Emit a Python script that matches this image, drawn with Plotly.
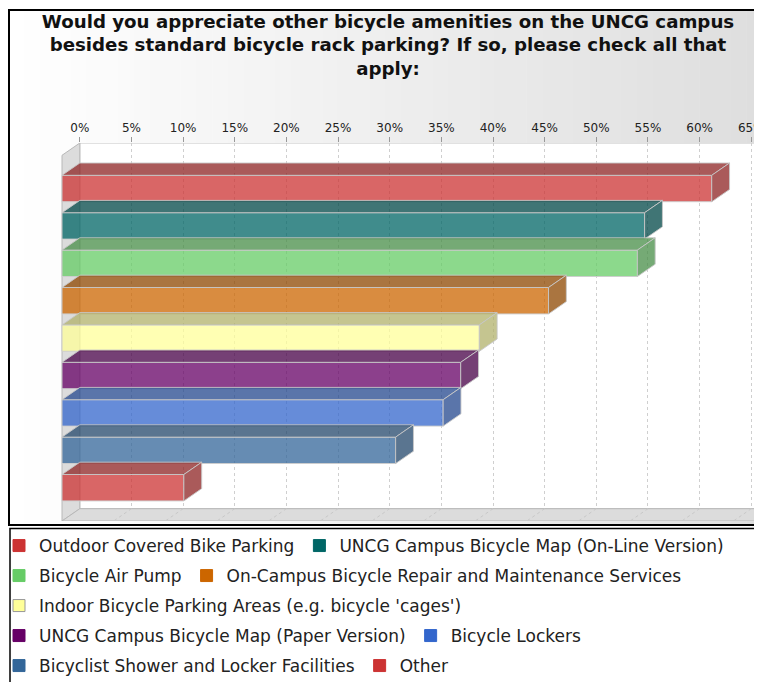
import plotly.graph_objects as go

# ---------------- data ----------------
categories = [
    "Outdoor Covered Bike Parking",
    "UNCG Campus Bicycle Map (On-Line Version)",
    "Bicycle Air Pump",
    "On-Campus Bicycle Repair and Maintenance Services",
    "Indoor Bicycle Parking Areas (e.g. bicycle 'cages')",
    "UNCG Campus Bicycle Map (Paper Version)",
    "Bicycle Lockers",
    "Bicyclist Shower and Locker Facilities",
    "Other",
]
percent = [62.9, 56.4, 55.7, 47.1, 40.4, 38.6, 36.9, 32.3, 11.8]
colors = ["#CC3333", "#006666", "#66CC66", "#CC6600", "#FFFF99",
          "#660066", "#3366CC", "#336699", "#CC3333"]
tick_values = [0, 5, 10, 15, 20, 25, 30, 35, 40, 45, 50, 55, 60, 65]
tick_labels = [f"{t}%" for t in tick_values]
title_lines = [
    "Would you appreciate other bicycle amenities on the UNCG campus",
    "besides standard bicycle rack parking? If so, please check all that",
    "apply:",
]

# ---------------- geometry / style ----------------
OFF = 8                          # page body margin of the html page
W_FIG, H_FIG = 762 - OFF, 682 - OFF
ORIGIN_PX = 62 - OFF             # pixel of 0% on the front plane
L, R, T, B = 0, 762 - OFF, 143 - OFF, 521 - OFF   # plot area (figure px)
PX_PER_PCT = 10.33
PX_PER_CAT = 37.4
X_MIN = -(ORIGIN_PX - L) / PX_PER_PCT
X_MAX = (R - ORIGIN_PX) / PX_PER_PCT
DX = 17.8 / PX_PER_PCT                   # 3D depth (x, data units)
DY = 12.3 / PX_PER_CAT                   # 3D depth (y, data units)
Y_TOP = -(188.5 - OFF - T) / PX_PER_CAT
Y_BOT = Y_TOP + (B - T) / PX_PER_CAT
BAR_W = 26.4 / PX_PER_CAT
FONT = "DejaVu Sans"
legend_rows = [[0, 1], [2, 3], [4], [5, 6], [7, 8]]
legend_row_px = [546, 576, 606, 636, 666]


def rgba(hexc, a, k=1.0):
    h = hexc.lstrip("#")
    r, g, b = (int(h[i:i + 2], 16) for i in (0, 2, 4))
    return f"rgba({int(r * k)},{int(g * k)},{int(b * k)},{a})"


def path(pts):
    return "M " + " L ".join(f"{x:.4f},{y:.4f}" for x, y in pts) + " Z"


def px_x(p):  # page pixel -> paper x
    return (p - OFF - L) / (R - L)


def px_y(p):  # page pixel -> paper y
    return (B - (p - OFF)) / (B - T)


ypos = list(range(len(categories)))
fig = go.Figure()

# top and side faces of the 3D bars (computed from the values)
for i, (v, c) in enumerate(zip(percent, colors)):
    yt = ypos[i] - BAR_W / 2
    yb = ypos[i] + BAR_W / 2
    top = [(0, yt), (v, yt), (v + DX, yt - DY), (DX, yt - DY), (0, yt)]
    side = [(v, yt), (v + DX, yt - DY), (v + DX, yb - DY), (v, yb), (v, yt)]
    for poly in (top, side):
        fig.add_trace(go.Scatter(
            x=[p[0] for p in poly], y=[p[1] for p in poly],
            mode="lines", fill="toself",
            fillcolor=rgba(c, 0.75, 0.7),
            line=dict(color="rgba(200,200,200,0.9)", width=1),
            hoverinfo="skip", showlegend=False))

# front faces
fig.add_trace(go.Bar(
    x=percent, y=ypos, orientation="h", width=BAR_W,
    marker=dict(color=[rgba(c, 0.75) for c in colors],
                line=dict(color="rgba(205,205,205,0.95)", width=1)),
    hovertext=categories, hoverinfo="text+x", showlegend=False))

# legend entries (one legend per row)
legend_layouts = {}
for r, (row, ypx) in enumerate(zip(legend_rows, legend_row_px)):
    key = "legend" if r == 0 else f"legend{r + 1}"
    legend_layouts[key] = dict(
        orientation="h", xref="paper", yref="paper",
        x=px_x(-1), xanchor="left", y=px_y(ypx), yanchor="middle",
        bgcolor="rgba(0,0,0,0)", traceorder="normal", itemwidth=30,
        font=dict(family=FONT, size=17, color="#222222"))
    for idx in row:
        c = colors[idx]
        fig.add_trace(go.Bar(
            x=[None], y=[None], orientation="h", name=categories[idx],
            legend=key,
            marker=dict(color=c,
                        line=dict(color="#999999" if c == "#FFFF99" else c, width=1))))

shapes = []
# background gradient of the chart frame
N = 48
x0p, x1p = 8, 762
for k in range(N):
    a = x0p + (x1p - x0p) * k / N
    b = x0p + (x1p - x0p) * (k + 1) / N + 0.5
    g = int(round(255 - 33 * (k + 0.5) / N))
    shapes.append(dict(type="rect", xref="paper", yref="paper", layer="below",
                       x0=px_x(a), x1=px_x(b), y0=px_y(525), y1=px_y(10),
                       fillcolor=f"rgb({g},{g},{g})", line=dict(width=0)))
# back wall
shapes.append(dict(type="rect", xref="x", yref="y", layer="below",
                   x0=DX, x1=X_MAX + 1, y0=Y_TOP, y1=Y_BOT - DY,
                   fillcolor="white", line=dict(color="#c4c4c4", width=1)))
# left wall
shapes.append(dict(type="path", xref="x", yref="y", layer="between",
                   path=path([(0, Y_TOP + DY), (DX, Y_TOP), (DX, Y_BOT - DY), (0, Y_BOT)]),
                   fillcolor="#dcdcdc", line=dict(color="#b8b8b8", width=1)))
# floor
shapes.append(dict(type="path", xref="x", yref="y", layer="between",
                   path=path([(0, Y_BOT), (DX, Y_BOT - DY), (X_MAX + 1, Y_BOT - DY),
                              (X_MAX + 1 - DX, Y_BOT)]),
                   fillcolor="#dcdcdc", line=dict(color="#b8b8b8", width=1)))
for t in tick_values[1:]:
    shapes.append(dict(type="line", xref="x", yref="y", layer="between",
                       x0=t + DX, y0=Y_BOT - DY, x1=t, y1=Y_BOT,
                       line=dict(color="#c8c8c8", width=1, dash="3px,3px")))
# frames
shapes.append(dict(type="rect", xref="paper", yref="paper", layer="above",
                   x0=px_x(9), x1=px_x(775), y0=px_y(525), y1=px_y(10),
                   line=dict(color="black", width=2)))
shapes.append(dict(type="rect", xref="paper", yref="paper", layer="above",
                   x0=px_x(10), x1=px_x(775), y0=px_y(695), y1=px_y(528.5),
                   line=dict(color="black", width=1.5)))

fig.update_layout(
    width=W_FIG, height=H_FIG,
    margin=dict(l=L, r=W_FIG - R, t=T, b=H_FIG - B, autoexpand=False),
    paper_bgcolor="white", plot_bgcolor="rgba(0,0,0,0)",
    barmode="overlay",
    title=dict(text="<br>".join(title_lines), x=(388 - OFF) / W_FIG, xanchor="center",
               y=1 - 19.5 / H_FIG, yanchor="top",
               font=dict(family=FONT, size=18.2, color="#111111", weight="bold")),
    xaxis=dict(range=[X_MIN, X_MAX], side="top",
               tickvals=[t + DX for t in tick_values], ticktext=tick_labels,
               ticks="outside", ticklen=5, tickcolor="#999999",
               ticklabeloverflow="allow",
               tickfont=dict(family=FONT, size=12, color="#222222"),
               showgrid=True, gridcolor="#cfcfcf", griddash="3px,3px", gridwidth=1,
               zeroline=False, showline=False, fixedrange=True),
    yaxis=dict(range=[Y_BOT, Y_TOP], visible=False, fixedrange=True),
    shapes=shapes,
    showlegend=True,
    **legend_layouts,
)

fig.write_html("out.html")
